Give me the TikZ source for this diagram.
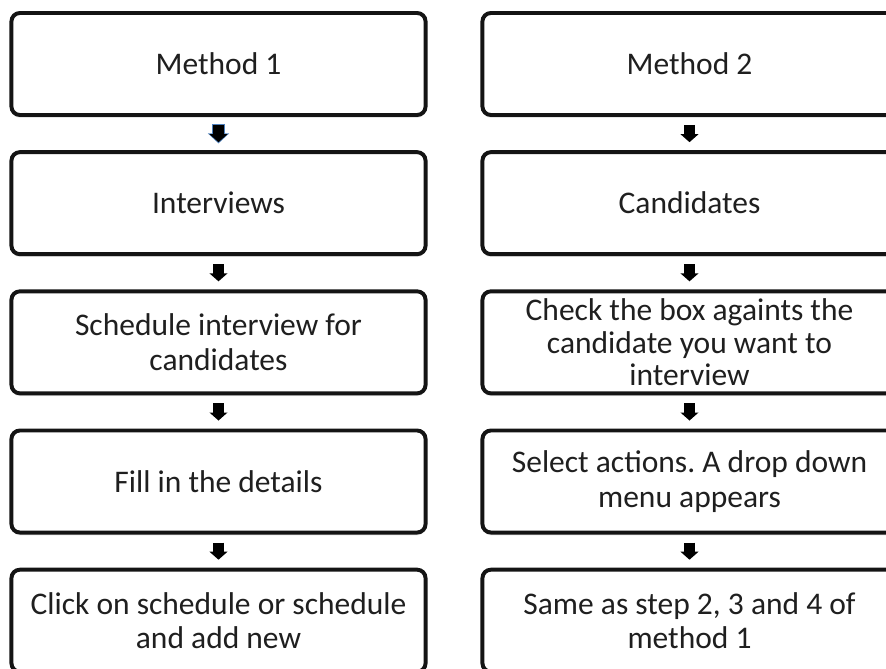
\documentclass[tikz,border=0pt]{standalone}
\usepackage{fontspec}
\setmainfont{Carlito}
\frenchspacing
\usetikzlibrary{positioning,arrows.meta,shadows}
\definecolor{arrowblue}{HTML}{4F81BD}
\tikzset{
	stepbox/.style={draw=black!92, line width=2.8pt, rounded corners=6pt, fill=white,
		minimum width=10.35cm, minimum height=2.55cm, inner sep=1pt, align=center,
		text=black!88, font=\fontsize{22.4}{24.6}\selectfont,
		drop shadow={shadow xshift=0pt, shadow yshift=-2pt, opacity=0.2}},
	flow/.style={line width=0.26cm, -{Triangle[width=0.44cm,length=0.2cm]},
		shorten <=0.2cm, shorten >=0.2cm},
	flowblue/.style={arrowblue, line width=0.32cm, -{Triangle[width=0.52cm,length=0.25cm]},
		shorten <=0.17cm, shorten >=0.17cm},
}
\begin{document}
\begin{tikzpicture}[x=0.025cm,y=-0.025cm,node distance=0.83cm]
	\clip (0,0) rectangle (886,669);
	% method 1
	\node[stepbox] (m1) at (218.5,64) {Method 1};
	\node[stepbox, below=of m1] (m1int) {Interviews};
	\node[stepbox, below=of m1int] (m1sched) {Schedule interview for\\candidates};
	\node[stepbox, below=of m1sched] (m1fill) {Fill in the details};
	\node[stepbox, below=of m1fill] (m1click) {Click on schedule or schedule\\and add new};
	% method 2
	\node[stepbox] (m2) at (689.5,64) {Method 2};
	\node[stepbox, below=of m2] (m2cand) {Candidates};
	\node[stepbox, below=of m2cand, font=\fontsize{22.4}{23}\selectfont] (m2check) {Check the box againts the\\candidate you want to\\interview};
	\node[stepbox, below=of m2check] (m2sel) {Select actions. A drop down\\menu appears};
	\node[stepbox, below=of m2sel] (m2same) {Same as step 2, 3 and 4 of\\method 1};
	% arrows
	\draw[flowblue] (m1) -- (m1int);
	\draw[flow] (m1) -- (m1int);
	\draw[flow] (m1int) -- (m1sched);
	\draw[flow] (m1sched) -- (m1fill);
	\draw[flow] (m1fill) -- (m1click);
	\draw[flow] (m2) -- (m2cand);
	\draw[flow] (m2cand) -- (m2check);
	\draw[flow] (m2check) -- (m2sel);
	\draw[flow] (m2sel) -- (m2same);
\end{tikzpicture}
\end{document}
